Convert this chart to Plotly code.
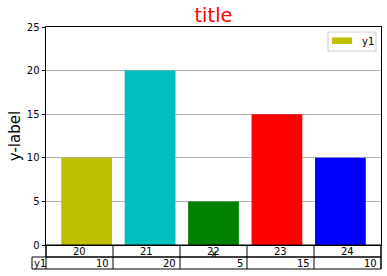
import plotly.graph_objects as go

# ---- data ----
categories = ["20", "21", "22", "23", "24"]
series_name = "y1"
values = [10, 20, 5, 15, 10]
bar_colors = ["#bfbf00", "#00bfbf", "#008000", "#ff0000", "#0000ff"]
y_ticks = [0, 5, 10, 15, 20, 25]
title_text = "title"
x_label = "x"
y_label = "y-label"

FONT = "DejaVu Sans, Verdana, sans-serif"
W, H = 387, 276
ML, MR, MT, MB = 46, 6, 27, 31
PW = W - ML - MR
PH = H - MT - MB


def px_x(p):
    return (p - ML) / PW


def px_y(p):
    return (H - MB - p) / PH


fig = go.Figure()
fig.add_trace(go.Bar(
    x=categories, y=values, name=series_name,
    marker=dict(color=bar_colors, line=dict(width=0)),
    width=0.8, showlegend=False,
))

shapes = []
annotations = []

# ---- table below axes ----
n = len(categories)
row1_top, row1_bot, row2_bot = px_y(245), px_y(257), px_y(269)
line = dict(color="black", width=1)
shapes.append(dict(type="rect", xref="paper", yref="paper", x0=0, x1=1,
                   y0=row1_bot, y1=row1_top, line=line))
shapes.append(dict(type="rect", xref="paper", yref="paper", x0=px_x(32), x1=1,
                   y0=row2_bot, y1=row1_bot, line=line))
for i in range(n + 1):
    xv = i / n
    shapes.append(dict(type="line", xref="paper", yref="paper", x0=xv, x1=xv,
                       y0=row2_bot, y1=row1_top, line=line))
for i, c in enumerate(categories):
    annotations.append(dict(xref="paper", yref="paper", x=(i + 0.5) / n, y=px_y(251),
                            text=c, showarrow=False, xanchor="center", yanchor="middle",
                            font=dict(family=FONT, size=10, color="black")))
    annotations.append(dict(xref="paper", yref="paper", x=(i + 1) / n, y=px_y(263),
                            text=str(values[i]), showarrow=False, xanchor="right",
                            yanchor="middle", xshift=-2,
                            font=dict(family=FONT, size=10, color="black")))
annotations.append(dict(xref="paper", yref="paper", x=px_x(32), y=px_y(263),
                        text=series_name, showarrow=False, xanchor="left", yanchor="middle",
                        xshift=0, font=dict(family=FONT, size=10, color="black")))
annotations.append(dict(xref="paper", yref="paper", x=0.5, y=px_y(253.5),
                        text=x_label, showarrow=False, xanchor="center", yanchor="middle",
                        font=dict(family=FONT, size=10, color="black")))

# ---- legend (matplotlib style) ----
shapes.append(dict(type="rect", xref="paper", yref="paper", x0=px_x(328), x1=px_x(376),
                   y0=px_y(51), y1=px_y(32), line=dict(color="#cccccc", width=1),
                   fillcolor="rgba(255,255,255,0.8)"))
shapes.append(dict(type="rect", xref="paper", yref="paper", x0=px_x(332), x1=px_x(352),
                   y0=px_y(44), y1=px_y(37.5), line=dict(width=0), fillcolor=bar_colors[0]))
annotations.append(dict(xref="paper", yref="paper", x=px_x(360), y=px_y(41.5),
                        text=series_name, showarrow=False, xanchor="left", yanchor="middle",
                        font=dict(family=FONT, size=10, color="black")))

fig.update_layout(
    width=W, height=H,
    margin=dict(l=ML, r=MR, t=MT, b=MB, pad=0),
    paper_bgcolor="white", plot_bgcolor="white",
    font=dict(family=FONT, size=10, color="black"),
    title=dict(text=title_text, x=(ML + PW / 2) / W, xanchor="center",
               y=1 - 15 / H, yanchor="middle",
               font=dict(family=FONT, size=19.5, color="red")),
    bargap=0.2,
    xaxis=dict(range=[-0.64, 4.64], showticklabels=False, ticks="", showgrid=False,
               showline=True, linecolor="black", linewidth=1, mirror=True,
               zeroline=False),
    yaxis=dict(range=[0, 25], tickvals=y_ticks, ticks="outside", ticklen=3.5,
               tickcolor="black", tickwidth=1,
               showgrid=True, gridcolor="#b0b0b0", gridwidth=1,
               showline=True, linecolor="black", linewidth=1, mirror=True,
               zeroline=False,
               tickfont=dict(family=FONT, size=10, color="black"),
               title=dict(text=y_label, font=dict(family=FONT, size=15, color="black"),
                          standoff=2)),
    shapes=shapes, annotations=annotations,
)

fig.write_html("out.html")
